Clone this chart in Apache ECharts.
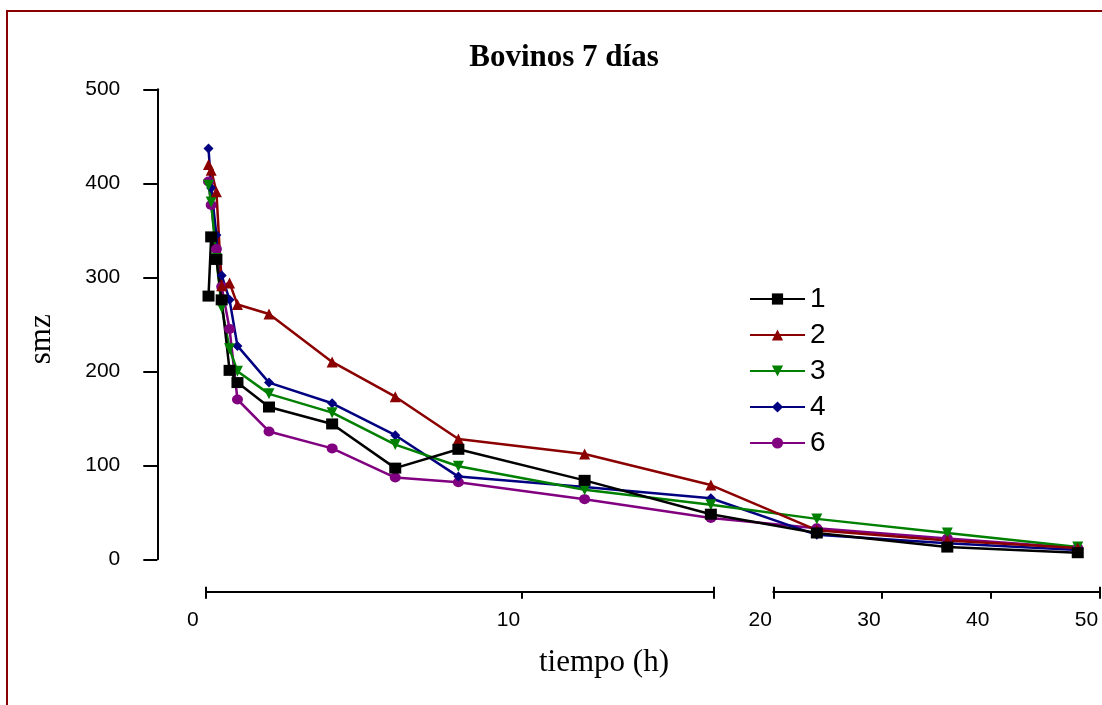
<!DOCTYPE html>
<html>
<head>
<meta charset="utf-8">
<title>Bovinos 7 días</title>
<script src="https://cdn.jsdelivr.net/npm/echarts@6/dist/echarts.min.js"></script>
<style>
  html, body { margin: 0; padding: 0; background: #fff; }
  #chart { width: 1102px; height: 705px; }
</style>
</head>
<body>
<div id="chart"></div>
<script>
// tiempos de muestreo (h)
var tiempos = [0.083, 0.167, 0.333, 0.5, 0.75, 1, 2, 4, 6, 8, 12, 16, 24, 36, 48];

// smz por animal
var animal1 = [280, 343, 319, 276, 201, 188, 162, 144, 97, 117, 84, 48, 28, 13, 7];
var animal2 = [420, 414, 391, 291, 294, 271, 261, 210, 173, 128, 112, 79, 31, 20, 12];
var animal3 = [398, 380, 320, 268, 224, 200, 176, 156, 122, 99, 74, 58, 43, 28, 13];
var animal4 = [437, 395, 345, 302, 276, 227, 188, 166, 132, 88, 77, 65, 26, 17, 10];
var animal6 = [402, 377, 330, 290, 245, 170, 136, 118, 87, 82, 64, 44, 33, 22, 12];

var leyenda = ['1', '2', '3', '4', '6'];
var ticksA = [0, 10];          // primer tramo del eje x
var ticksB = [20, 30, 40, 50]; // segundo tramo

// eje x cortado: 0-16 h normal, 20-50 h comprimido a la derecha
var corteA = 16.08, corteB = 20, finB = 50;
var hueco = 1.9, escalaB = 0.3445;
function ejeX(t) {
    return t <= corteA ? t : corteA + hueco + (t - corteB) * escalaB;
}

var serif = 'Liberation Serif', sans = 'Liberation Sans';
var chart = echarts.init(document.getElementById('chart'));

function serie(nombre, valores, color, simbolo, tam, rot) {
    return {
        name: nombre,
        type: 'line',
        xAxisIndex: 0,
        yAxisIndex: 0,
        data: tiempos.map(function (t, i) { return [ejeX(t), valores[i]]; }),
        symbol: simbolo,
        symbolSize: tam,
        symbolRotate: rot || 0,
        showAllSymbol: true,
        clip: false,
        lineStyle: { color: color, width: 2.5 },
        itemStyle: { color: color },
        emphasis: { disabled: true }
    };
}

var lineaNegra = { color: '#000', width: 2 };

function tramo(grid, min, max, ticks, extremos) {
    return [{
        gridIndex: grid, type: 'value', min: min, max: max,
        position: 'bottom', offset: 32.4,
        axisLine: { show: true, onZero: false, lineStyle: lineaNegra },
        axisTick: { show: true, length: 7, lineStyle: lineaNegra, customValues: ticks.concat(extremos) },
        axisLabel: { customValues: ticks, fontFamily: sans, fontSize: 21, color: '#000', margin: 18, padding: [0, 26, 0, 0] },
        splitLine: { show: false }
    }, {
        // la parte de arriba de los corchetes en los extremos
        gridIndex: grid, type: 'value', min: min, max: max,
        position: 'bottom', offset: 32.4,
        axisLine: { show: false, onZero: false },
        axisTick: { show: true, inside: true, length: 5, lineStyle: lineaNegra, customValues: extremos },
        axisLabel: { show: false },
        splitLine: { show: false }
    }];
}

var option = {
    animation: false,
    backgroundColor: '#fff',
    title: {
        text: 'Bovinos 7 días',
        left: 564, top: 42, textAlign: 'center', padding: 0,
        textStyle: { fontFamily: serif, fontSize: 31, fontWeight: 'bold', color: '#000' }
    },
    legend: {
        orient: 'vertical', left: 749, top: 285, padding: 0,
        itemWidth: 55, itemHeight: 14, itemGap: 8,
        data: leyenda, selectedMode: false,
        textStyle: { fontFamily: sans, fontSize: 28, color: '#000' }
    },
    grid: [
        { left: 205.9, right: 2.5, top: 89.3, bottom: 145.7 },
        { left: 205.9, right: 388.7, top: 89.3, bottom: 145.7 },
        { left: 773.3, right: 2.5, top: 89.3, bottom: 145.7 }
    ],
    xAxis: [
        { gridIndex: 0, type: 'value', min: 0, max: ejeX(finB), show: false }
    ].concat(tramo(1, 0, corteA, ticksA, [0, corteA]))
     .concat(tramo(2, corteB, finB, ticksB, [corteB, finB])),
    yAxis: [
        {
            gridIndex: 0, type: 'value', min: 0, max: 500, interval: 100, offset: 48.6,
            name: 'smz', nameLocation: 'middle', nameGap: 100, nameRotate: 90,
            nameTextStyle: { fontFamily: serif, fontSize: 31, color: '#000', padding: [0, 30, 0, 0] },
            axisLine: { show: true, onZero: false, lineStyle: lineaNegra },
            axisTick: { show: true, length: 14, lineStyle: lineaNegra },
            axisLabel: { fontFamily: sans, fontSize: 21, color: '#000', margin: 37, padding: [4, 0, 0, 0] },
            splitLine: { show: false }
        },
        { gridIndex: 1, type: 'value', min: 0, max: 500, show: false },
        { gridIndex: 2, type: 'value', min: 0, max: 500, show: false }
    ],
    graphic: [
        {
            type: 'rect', silent: true, z: -10,
            shape: { x: 7, y: 11, width: 1200, height: 800 },
            style: { fill: null, stroke: '#880000', lineWidth: 2 }
        },
        {
            type: 'text', x: 604, y: 663, silent: true,
            style: { text: 'tiempo (h)', font: '31px "Liberation Serif"', fill: '#000', textAlign: 'center', textVerticalAlign: 'middle' }
        }
    ],
    series: [
        serie('6', animal6, '#800080', 'circle', [11, 10]),
        serie('4', animal4, '#000080', 'diamond', [10, 10]),
        serie('3', animal3, '#008000', 'triangle', 11, 180),
        serie('2', animal2, '#8b0000', 'triangle', 11),
        serie('1', animal1, '#000000', 'rect', [12, 11])
    ]
};

chart.setOption(option);
</script>
</body>
</html>
